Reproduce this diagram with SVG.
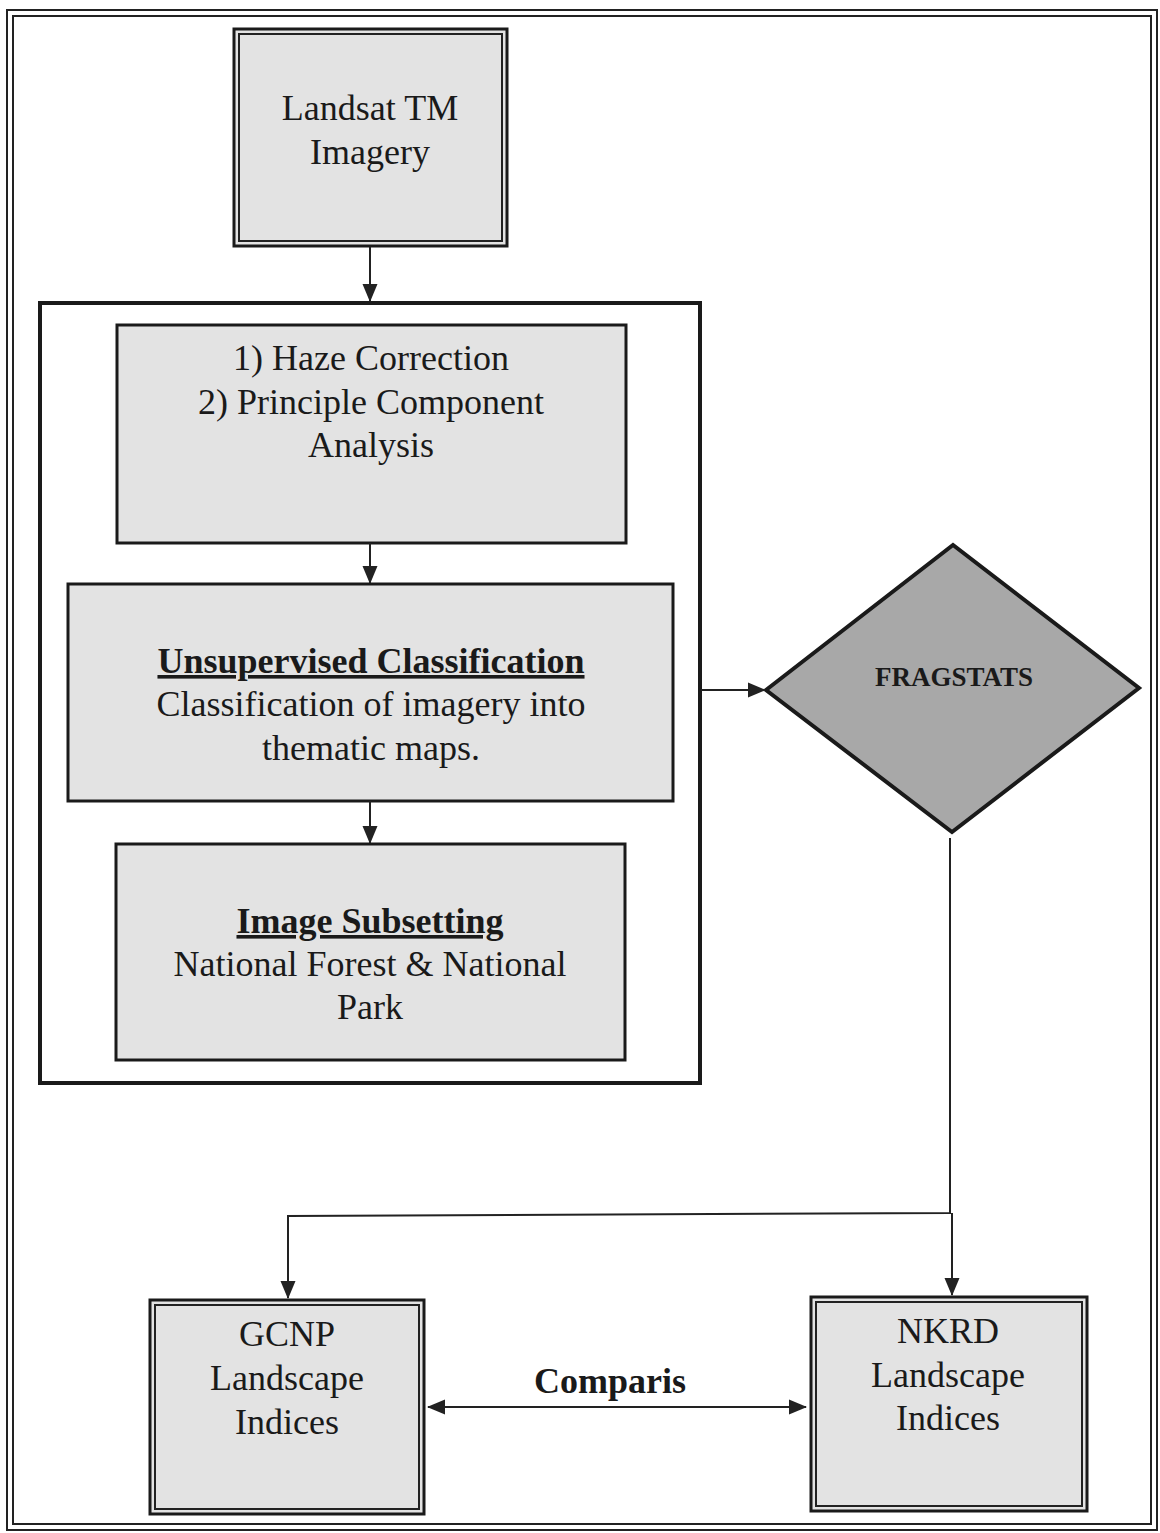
<svg xmlns="http://www.w3.org/2000/svg" width="1160" height="1533" viewBox="0 0 1160 1533">
<style>
.t{font-family:"Liberation Serif","Times New Roman",serif;font-size:36px;fill:#1a1a1a;text-anchor:middle}
.b{font-weight:bold}
.box{fill:#e3e3e3;stroke:#1a1a1a;stroke-width:3}
.frame{fill:none;stroke:#222;stroke-width:2}
.con{fill:none;stroke:#222;stroke-width:2}
</style>
<defs>
<marker id="ah" markerUnits="userSpaceOnUse" markerWidth="18" markerHeight="18" refX="17" refY="9" orient="auto-start-reverse" viewBox="0 0 18 18">
<path d="M0,1.5 L18,9 L0,16.5 Z" fill="#222"/>
</marker>
</defs>
<rect width="1160" height="1533" fill="#fff"/>
<g id="outer-frame">
<rect class="frame" x="7" y="10" width="1150" height="1520"/>
<rect class="frame" x="13" y="16" width="1138" height="1508"/>
</g>
<g id="landsat">
<rect class="box" x="234" y="29" width="273" height="217"/>
<rect class="frame" x="239" y="34" width="263" height="207" stroke-width="1.5"/>
<text class="t" x="370" y="120">Landsat TM</text>
<text class="t" x="370" y="164">Imagery</text>
</g>
<g id="preprocessing">
<rect x="40" y="303" width="660" height="780" fill="#fff" stroke="#1a1a1a" stroke-width="4"/>
</g>
<g id="haze">
<rect class="box" x="117" y="325" width="509" height="218" stroke-width="2"/>
<text class="t" x="371" y="370">1) Haze Correction</text>
<text class="t" x="371" y="414">2) Principle Component</text>
<text class="t" x="371" y="457">Analysis</text>
</g>
<g id="unsupervised">
<rect class="box" x="68" y="584" width="605" height="217" stroke-width="2"/>
<text class="t b" x="371" y="673" text-decoration="underline">Unsupervised Classification</text>
<text class="t" x="371" y="716">Classification of imagery into</text>
<text class="t" x="371" y="760">thematic maps.</text>
</g>
<g id="subsetting">
<rect class="box" x="116" y="844" width="509" height="216" stroke-width="2"/>
<text class="t b" x="370" y="933" text-decoration="underline">Image Subsetting</text>
<text class="t" x="370" y="976">National Forest &amp; National</text>
<text class="t" x="370" y="1019">Park</text>
</g>
<g id="fragstats">
<polygon points="766,690 953,545 1139,688 952,832" fill="#a8a8a8" stroke="#1a1a1a" stroke-width="4" stroke-linejoin="miter"/>
<text class="t b" x="954" y="686" style="font-size:27px">FRAGSTATS</text>
</g>
<g id="gcnp">
<rect class="box" x="150" y="1300" width="274" height="214"/>
<rect class="frame" x="155" y="1305" width="264" height="204" stroke-width="1.5"/>
<text class="t" x="287" y="1346">GCNP</text>
<text class="t" x="287" y="1390">Landscape</text>
<text class="t" x="287" y="1434">Indices</text>
</g>
<g id="nkrd">
<rect class="box" x="811" y="1297" width="276" height="214"/>
<rect class="frame" x="816" y="1302" width="266" height="204" stroke-width="1.5"/>
<text class="t" x="948" y="1343">NKRD</text>
<text class="t" x="948" y="1387">Landscape</text>
<text class="t" x="948" y="1430">Indices</text>
</g>
<g id="connectors">
<line class="con" x1="370" y1="247" x2="370" y2="301" marker-end="url(#ah)"/>
<line class="con" x1="370" y1="543" x2="370" y2="583" marker-end="url(#ah)"/>
<line class="con" x1="370" y1="801" x2="370" y2="843" marker-end="url(#ah)"/>
<line class="con" x1="701" y1="690" x2="765" y2="690" marker-end="url(#ah)"/>
<polyline class="con" points="950,838 950,1213 288,1216 288,1298" marker-end="url(#ah)"/>
<line class="con" x1="952" y1="1213" x2="952" y2="1295" marker-end="url(#ah)"/>
<line class="con" x1="428" y1="1407" x2="806" y2="1407" marker-start="url(#ah)" marker-end="url(#ah)"/>
<text class="t b" x="610" y="1393">Comparis</text>
</g>
</svg>
